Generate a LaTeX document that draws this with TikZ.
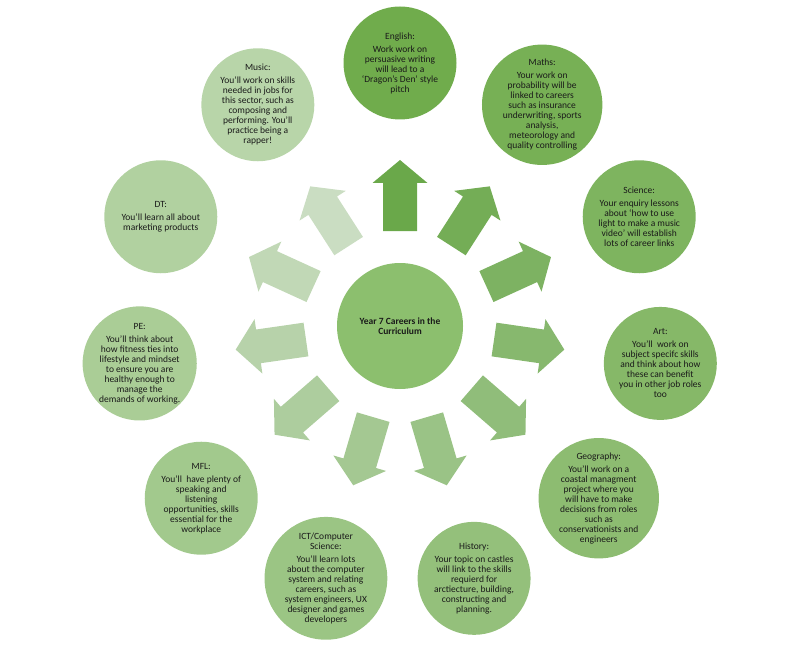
\documentclass[tikz,border=0pt]{standalone}
\usepackage{fontspec}
\setmainfont{Carlito}
\usetikzlibrary{calc}
\definecolor{arrA}{HTML}{6AA84A}
\definecolor{arrB}{HTML}{CADDC2}
\definecolor{cirA}{HTML}{70AC4C}
\definecolor{cirB}{HTML}{B8D5A9}
\definecolor{hubcol}{HTML}{8CBF6E}
\definecolor{txt}{HTML}{1A1A1A}
\newcommand\angof[1]{90-#1*32.7272727}
\newcommand\ttl[1]{#1\\[3pt]}
\begin{document}
\begin{tikzpicture}[x=1pt,y=1pt,
  topic/.style={circle, minimum size=113pt, inner sep=0pt, align=center,
    text=txt, font=\fontsize{9.5}{10}\selectfont},
  hub/.style={circle, minimum size=126pt, inner sep=0pt, align=center,
    fill=hubcol, text=txt, font=\fontsize{9.5}{10}\selectfont\bfseries}]
\useasboundingbox (0,0) rectangle (800,-647);
\coordinate (O) at (400,-326);
\node[hub] (hub) at (O) {Year 7 Careers in the\\Curriculum};
% arrows
\foreach \k in {0,...,10}{
  \pgfmathtruncatemacro\p{100-10*\k}
  \fill[arrA!\p!arrB, shift={(O)}, rotate={90-\k*32.7272727}]
    (95,-17) -- (143,-17) -- (143,-27.5) -- (166,0) -- (143,27.5) -- (143,17) -- (95,17) -- cycle;
}
% topic circles
\node[topic, fill=cirA!100!cirB] (eng) at ($(O)+({\angof{0}}:263)$)
  {\ttl{English:}Work work on\\persuasive writing\\will lead to a\\‘Dragon’s Den’ style\\pitch};
\node[topic, fill=cirA!90!cirB] (maths) at ($(O)+({\angof{1}}:263)$)
  {\ttl{Maths:}Your work on\\probability will be\\linked to careers\\such as insurance\\underwriting, sports\\analysis,\\meteorology and\\quality controlling};
\node[topic, fill=cirA!80!cirB] (sci) at ($(O)+({\angof{2}}:263)$)
  {\ttl{Science:}Your enquiry lessons\\about ‘how to use\\light to make a music\\video’ will establish\\lots of career links};
\node[topic, fill=cirA!70!cirB] (art) at ($(O)+({\angof{3}}:263)$)
  {\ttl{Art:}You’ll\ \ work on\\subject specifc skills\\and think about how\\these can benefit\\you in other job roles\\too};
\node[topic, fill=cirA!60!cirB] (geo) at ($(O)+({\angof{4}}:263)$)
  {\ttl{Geography:}You’ll work on a\\coastal managment\\project where you\\will have to make\\decisions from roles\\such as\\conservationists and\\engineers};
\node[topic, fill=cirA!50!cirB] (hist) at ($(O)+({\angof{5}}:263)$)
  {\ttl{History:}Your topic on castles\\will link to the skills\\requierd for\\arctiecture, building,\\constructing and\\planning.};
\node[topic, fill=cirA!40!cirB] (ict) at ($(O)+({\angof{6}}:263)$)
  {ICT/Computer\\\ttl{Science:}You’ll learn lots\\about the computer\\system and relating\\careers, such as\\system engineers, UX\\designer and games\\developers};
\node[topic, fill=cirA!30!cirB] (mfl) at ($(O)+({\angof{7}}:263)$)
  {\ttl{MFL:}You’ll\ \ have plenty of\\speaking and\\listening\\opportunities, skills\\essential for the\\workplace};
\node[topic, fill=cirA!20!cirB] (pe) at ($(O)+({\angof{8}}:263)$)
  {\ttl{PE:}You’ll think about\\how fitness ties into\\lifestyle and mindset\\to ensure you are\\healthy enough to\\manage the\\demands of working.};
\node[topic, fill=cirA!10!cirB] (dt) at ($(O)+({\angof{9}}:263)$)
  {\ttl{DT:}You’ll learn all about\\marketing products};
\node[topic, fill=cirA!0!cirB] (music) at ($(O)+({\angof{10}}:263)$)
  {\ttl{Music:}You’ll work on skills\\needed in jobs for\\this sector, such as\\composing and\\performing. You’ll\\practice being a\\rapper!};
\end{tikzpicture}
\end{document}
